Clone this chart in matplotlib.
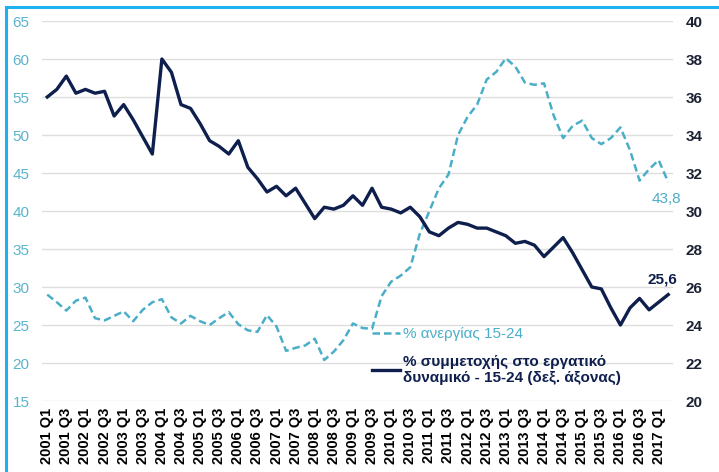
import matplotlib
matplotlib.use("Agg")
import matplotlib.pyplot as plt
from matplotlib.patches import Rectangle

plt.rcParams["font.family"] = ["Liberation Sans", "DejaVu Sans"]

# quarters 2001 Q1 .. 2017 Q2
quarters = [f"{y} Q{q}" for y in range(2001, 2018) for q in range(1, 5)][:66]
tick_labels = quarters[::2]

# unemployment rate 15-24 (left axis)
unemployment = [
    29.0, 28.0, 26.9, 28.2, 28.6, 25.9, 25.6, 26.2, 26.8, 25.5,
    27.0, 28.0, 28.4, 26.0, 25.2, 26.2, 25.5, 25.0, 25.9, 26.7,
    25.1, 24.3, 24.1, 26.3, 24.8, 21.6, 22.0, 22.3, 23.2, 20.4,
    21.5, 23.0, 25.2, 24.6, 24.5, 28.8, 30.7, 31.5, 32.6, 37.0,
    40.0, 43.0, 44.8, 50.0, 52.4, 54.0, 57.3, 58.3, 60.1, 59.0,
    56.9, 56.6, 56.8, 52.6, 49.6, 51.2, 51.9, 49.6, 48.8, 49.6,
    51.0, 48.0, 44.0, 45.5, 46.7, 43.8,
]

# labour force participation 15-24 (right axis)
participation = [
    36.0, 36.4, 37.1, 36.2, 36.4, 36.2, 36.3, 35.0, 35.6, 34.8,
    33.9, 33.0, 38.0, 37.3, 35.6, 35.4, 34.6, 33.7, 33.4, 33.0,
    33.7, 32.3, 31.7, 31.0, 31.3, 30.8, 31.2, 30.4, 29.6, 30.2,
    30.1, 30.3, 30.8, 30.3, 31.2, 30.2, 30.1, 29.9, 30.2, 29.7,
    28.9, 28.7, 29.1, 29.4, 29.3, 29.1, 29.1, 28.9, 28.7, 28.3,
    28.4, 28.2, 27.6, 28.1, 28.6, 27.8, 26.9, 26.0, 25.9, 24.9,
    24.0, 24.9, 25.4, 24.8, 25.2, 25.6,
]

navy = "#0e1f4d"
light = "#4aaec8"

fig = plt.figure(figsize=(7.19, 4.72), dpi=100)
ax = fig.add_axes([0.0584, 0.1504, 0.8776, 0.8051])
ax2 = ax.twinx()

x = list(range(len(quarters)))
l1, = ax.plot(x, unemployment, color=light, lw=1.8, ls=(0, (3, 1.6)),
              label="% ανεργίας 15-24")
l2, = ax2.plot(x, participation, color=navy, lw=2.4, solid_joinstyle="round",
               label="% συμμετοχής στο εργατικό\nδυναμικό - 15-24 (δεξ. άξονας)")

ax.set_xlim(-0.55, 65.5)
ax.set_ylim(15, 65)
ax.set_yticks(range(15, 66, 5))
ax2.set_ylim(20, 40)
ax2.set_yticks(range(20, 41, 2))

ax.grid(axis="y", color="#dedede", lw=1)
ax.set_axisbelow(True)
for a in (ax, ax2):
    for s in a.spines.values():
        s.set_visible(False)
    a.tick_params(length=0)

ax.set_xticks(x[::2])
ax.set_xticklabels(tick_labels, rotation=90, fontsize=10.5, fontweight="bold")
ax.tick_params(axis="x", pad=5)
ax.tick_params(axis="y", colors="#5ab4cb", labelsize=11, pad=9)
ax2.tick_params(axis="y", labelsize=11, pad=9, labelcolor="#1c2233")
for t in ax2.get_yticklabels():
    t.set_fontweight("bold")

ax.annotate("43,8", xy=(x[-1], unemployment[-1]), xytext=(-1, -12),
            textcoords="offset points", ha="center", va="center",
            color=light, fontsize=11)
ax2.annotate("25,6", xy=(x[-1], participation[-1]), xytext=(-4, 11),
             textcoords="offset points", ha="center", va="center",
             color=navy, fontsize=11, fontweight="bold")

leg = fig.legend(handles=[l1, l2], loc="upper left",
                 bbox_to_anchor=(372 / 719, 1 - 327 / 472), frameon=False,
                 fontsize=11, handlelength=1.8, handletextpad=0.2,
                 labelspacing=0.9, borderpad=0, borderaxespad=0)
texts = leg.get_texts()
texts[0].set_color(light)
texts[1].set_color(navy)
texts[1].set_fontweight("bold")

fig.patches.append(Rectangle((6 / 719, -0.1), 1.2, 1 - 7 / 472 + 0.1,
                             transform=fig.transFigure, fill=False,
                             ec="#1db2ef", lw=2.2))

fig.savefig("out.png", dpi=100)
